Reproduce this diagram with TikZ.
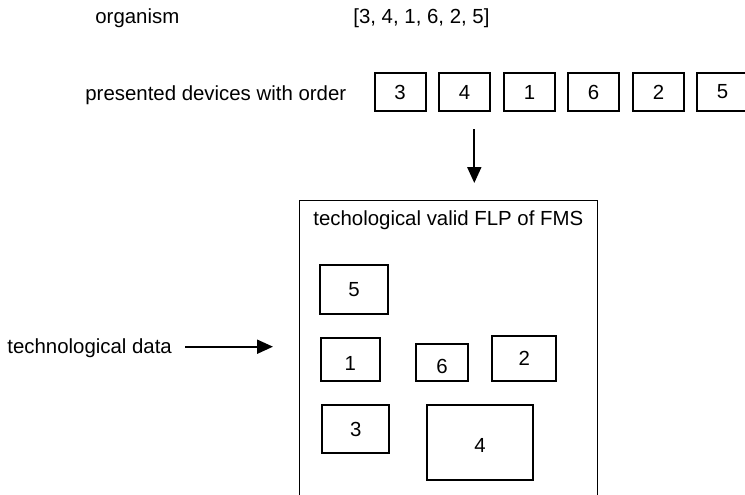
\documentclass[tikz,border=0pt]{standalone}
\usepackage{fontspec}
\setmainfont{Liberation Sans}
\usetikzlibrary{arrows.meta,calc}

\tikzset{
  devbox/.style={draw=black, line width=1pt, rectangle, inner sep=0pt,
    font=\fontsize{10.2pt}{12pt}\selectfont},
  txt/.style={inner sep=0pt, anchor=base west, font=\fontsize{10.2pt}{12pt}\selectfont},
  framebox/.style={draw=black, line width=0.65pt, rectangle, inner sep=0pt, anchor=north west},
  arr/.style={line width=1pt, -{Triangle[length=8pt,width=7pt]}}
}

\begin{document}
\begin{tikzpicture}[x=0.5pt, y=-0.5pt]
  \clip (0,0) rectangle (745,494);

  % header texts
  \node[txt] (org) at (95,23) {organism};
  \node[txt] (seq) at (353,23) {[3, 4, 1, 6, 2, 5]};
  \node[txt] (pres) at (85,100) {presented devices with order};

  % devices in presented order
  \foreach \n/\cx in {3/400, 4/464.5, 1/529.5, 6/593.5, 2/658.5, 5/722.5}
    \node[devbox, minimum width=25.5pt, minimum height=18.8pt] (top\n) at (\cx,92) {\n};

  % arrow down to the layout
  \coordinate (dtop) at (474.3,129);
  \coordinate (dbot) at (474.3,183);
  \draw[arr] (dtop) -- (dbot);

  % layout frame (open at the bottom)
  \node[framebox, minimum width=149pt, minimum height=160pt] (frame) at (299,200) {};
  \node[txt] (title) at (313,225) {techological valid FLP of FMS};

  % placed devices
  \node[devbox, minimum width=34pt, minimum height=24.2pt] (in5) at (354,289.5) {5};
  \node[devbox, minimum width=29.6pt, minimum height=21.5pt,
        label={[inner sep=0pt, yshift=-2pt, font=\fontsize{10.2pt}{12pt}\selectfont]center:1}] (in1) at (350.4,359.8) {};
  \node[devbox, minimum width=25.8pt, minimum height=18.7pt,
        label={[inner sep=0pt, yshift=-2pt, font=\fontsize{10.2pt}{12pt}\selectfont]center:6}] (in6) at (442,362.7) {};
  \node[devbox, minimum width=31.8pt, minimum height=22.8pt] (in2) at (524.2,358.5) {2};
  \node[devbox, minimum width=33.6pt, minimum height=24.3pt] (in3) at (355.7,429) {3};
  \node[devbox, minimum width=52.7pt, minimum height=37.5pt,
        label={[inner sep=0pt, yshift=-1.5pt, font=\fontsize{10.2pt}{12pt}\selectfont]center:4}] (in4) at (480,442.5) {};

  % input of technological data
  \node[txt] (tech) at (7,353) {technological data};
  \coordinate (tout) at (185,346.7);
  \coordinate (tin) at (273,346.7);
  \draw[arr] (tout) -- (tin);
\end{tikzpicture}
\end{document}
